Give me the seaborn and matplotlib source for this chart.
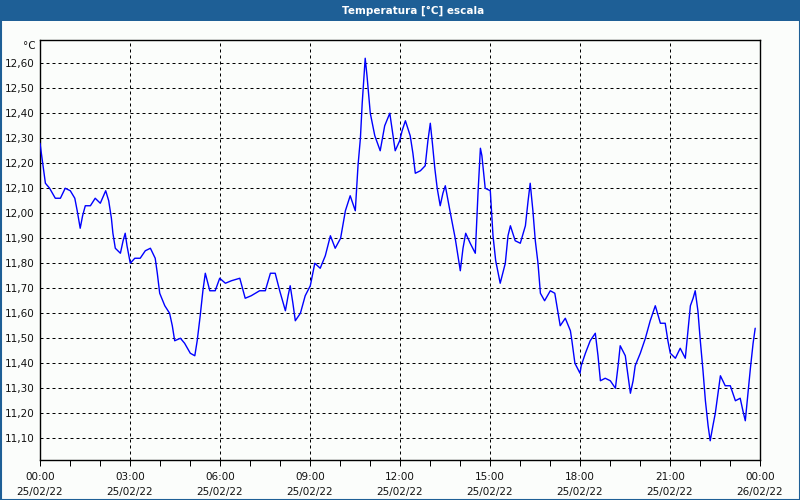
import matplotlib
matplotlib.use("Agg")
import matplotlib.pyplot as plt
import matplotlib.patches as mpatches
from matplotlib.ticker import FuncFormatter, MultipleLocator, FixedLocator
import seaborn as sns
import pandas as pd

# ---------------- data ----------------
hours = [0.00, 0.09, 0.18, 0.32, 0.51, 0.68, 0.84, 1.01, 1.16, 1.24, 1.34, 1.42, 1.51, 1.68,
         1.84, 2.01, 2.19, 2.29, 2.38, 2.43, 2.51, 2.68, 2.77, 2.84, 2.90, 3.01, 3.16, 3.34,
         3.51, 3.68, 3.84, 3.91, 3.99, 4.16, 4.32, 4.41, 4.49, 4.68, 4.82, 5.01, 5.16, 5.24,
         5.34, 5.43, 5.51, 5.66, 5.84, 5.99, 6.18, 6.38, 6.66, 6.84, 7.04, 7.32, 7.51, 7.68,
         7.84, 7.99, 8.18, 8.27, 8.34, 8.43, 8.51, 8.68, 8.84, 9.01, 9.16, 9.34, 9.51, 9.68,
         9.84, 10.02, 10.18, 10.34, 10.51, 10.60, 10.68, 10.74, 10.80, 10.84, 10.90, 11.01,
         11.16, 11.34, 11.49, 11.66, 11.84, 11.99, 12.07, 12.18, 12.34, 12.43, 12.51, 12.68,
         12.84, 12.93, 13.01, 13.08, 13.16, 13.24, 13.34, 13.43, 13.51, 13.68, 13.84, 13.93,
         14.01, 14.10, 14.19, 14.34, 14.51, 14.60, 14.68, 14.73, 14.84, 15.01, 15.10, 15.19,
         15.34, 15.51, 15.60, 15.68, 15.84, 16.01, 16.18, 16.27, 16.34, 16.43, 16.51, 16.60,
         16.68, 16.82, 17.01, 17.16, 17.27, 17.34, 17.51, 17.68, 17.73, 17.83, 18.00, 18.04,
         18.18, 18.34, 18.51, 18.60, 18.68, 18.84, 19.01, 19.18, 19.27, 19.34, 19.51, 19.60,
         19.68, 19.77, 19.84, 20.01, 20.18, 20.34, 20.51, 20.68, 20.84, 20.93, 21.01, 21.18,
         21.34, 21.51, 21.60, 21.68, 21.77, 21.84, 21.93, 22.01, 22.10, 22.18, 22.27, 22.34,
         22.43, 22.51, 22.60, 22.68, 22.84, 23.01, 23.18, 23.34, 23.43, 23.51, 23.60, 23.68,
         23.77, 23.84]
temps = [12.28, 12.20, 12.12, 12.10, 12.06, 12.06, 12.10, 12.09, 12.06, 12.01, 11.94, 11.99,
         12.03, 12.03, 12.06, 12.04, 12.09, 12.05, 11.98, 11.92, 11.86, 11.84, 11.89, 11.92,
         11.87, 11.80, 11.82, 11.82, 11.85, 11.86, 11.82, 11.76, 11.68, 11.63, 11.60, 11.55,
         11.49, 11.50, 11.48, 11.44, 11.43, 11.49, 11.59, 11.69, 11.76, 11.69, 11.69, 11.74,
         11.72, 11.73, 11.74, 11.66, 11.67, 11.69, 11.69, 11.76, 11.76, 11.69, 11.61, 11.67,
         11.71, 11.64, 11.57, 11.60, 11.67, 11.71, 11.80, 11.78, 11.83, 11.91, 11.86, 11.90,
         12.01, 12.07, 12.01, 12.19, 12.30, 12.44, 12.55, 12.62, 12.55, 12.40, 12.31, 12.25,
         12.35, 12.40, 12.25, 12.29, 12.33, 12.37, 12.31, 12.24, 12.16, 12.17, 12.19, 12.29,
         12.36, 12.28, 12.18, 12.10, 12.03, 12.08, 12.11, 12.00, 11.90, 11.83, 11.77, 11.86,
         11.92, 11.88, 11.84, 12.08, 12.26, 12.23, 12.10, 12.09, 11.91, 11.81, 11.72, 11.80,
         11.91, 11.95, 11.89, 11.88, 11.95, 12.05, 12.12, 12.01, 11.89, 11.80, 11.68, 11.65,
         11.69, 11.68, 11.60, 11.55, 11.58, 11.53, 11.49, 11.40, 11.36, 11.39, 11.44, 11.49,
         11.52, 11.43, 11.33, 11.34, 11.33, 11.30, 11.39, 11.47, 11.43, 11.35, 11.28, 11.33,
         11.39, 11.44, 11.50, 11.57, 11.63, 11.56, 11.56, 11.49, 11.44, 11.42, 11.46, 11.42,
         11.53, 11.63, 11.66, 11.69, 11.61, 11.49, 11.37, 11.25, 11.15, 11.09, 11.15, 11.20,
         11.28, 11.35, 11.31, 11.31, 11.25, 11.26, 11.21, 11.17, 11.28, 11.38, 11.48, 11.54]

tick_hours = [0, 3, 6, 9, 12, 15, 18, 21, 24]
tick_labels = ["00:00\n25/02/22", "03:00\n25/02/22", "06:00\n25/02/22", "09:00\n25/02/22",
               "12:00\n25/02/22", "15:00\n25/02/22", "18:00\n25/02/22", "21:00\n25/02/22",
               "00:00\n26/02/22"]
title = "Temperatura [°C] escala"
unit = "°C"

df = pd.DataFrame({"hour": hours, "temp": temps})

# ---------------- style ----------------
sns.set_style("white")
plt.rcParams["font.family"] = ["DejaVu Sans"]
bg = "#fbfdfb"
blue_bar = "#1e5f96"
px = 0.72  # 1 px in points at 100 dpi

fig = plt.figure(figsize=(8, 5), dpi=100, facecolor=bg)
ax = fig.add_axes([40 / 800, 40 / 500, 720 / 800, 420 / 500])
ax.set_facecolor(bg)

sns.lineplot(data=df, x="hour", y="temp", ax=ax, color="#0000ff", linewidth=1.0,
             estimator=None, sort=False, zorder=3)

ax.set_xlim(0, 24)
ax.set_ylim(11.013, 12.693)

ax.xaxis.set_major_locator(FixedLocator(tick_hours))
ax.set_xticks(tick_hours)
ax.set_xticklabels(tick_labels, fontsize=7.5, color="#111111", linespacing=1.55)
ax.xaxis.set_minor_locator(MultipleLocator(1))
ax.yaxis.set_major_locator(MultipleLocator(0.1))
ax.yaxis.set_major_formatter(FuncFormatter(lambda v, p: f"{v:.2f}".replace(".", ",")))
ax.tick_params(axis="y", length=0, pad=4, labelsize=7.5, labelcolor="#111111")
ax.tick_params(axis="x", which="major", length=4, width=px, direction="out", pad=5,
               color="black", bottom=True)
ax.tick_params(axis="x", which="minor", length=4, width=px, direction="out",
               color="black", bottom=True)

ax.grid(True, which="major", axis="both", color="black", linestyle=(0, (3, 3)),
        linewidth=px, zorder=1)
ax.set_axisbelow(True)

for s in ax.spines.values():
    s.set_visible(True)
    s.set_color("black")
    s.set_linewidth(1.0)

ax.set_xlabel("")
ax.set_ylabel("")

# unit label
fig.text(36 / 800, 1 - 46 / 500, unit, ha="right", va="center", fontsize=7.5, color="#111111")

# title bar
fig.patches.append(mpatches.Rectangle((0, 1 - 21 / 500), 1, 21 / 500, transform=fig.transFigure,
                                      facecolor=blue_bar, edgecolor="none", zorder=0))
fig.text(0.516, 1 - 10.5 / 500, title, ha="center", va="center", fontsize=7.5,
         fontweight="bold", color="white")
# outer border
fig.patches.append(mpatches.Rectangle((0.5 / 800, 0.5 / 500), 799 / 800, 499 / 500,
                                      transform=fig.transFigure, facecolor="none",
                                      edgecolor=blue_bar, linewidth=1.5, zorder=0))

fig.savefig("out.png", dpi=100, facecolor=bg)
